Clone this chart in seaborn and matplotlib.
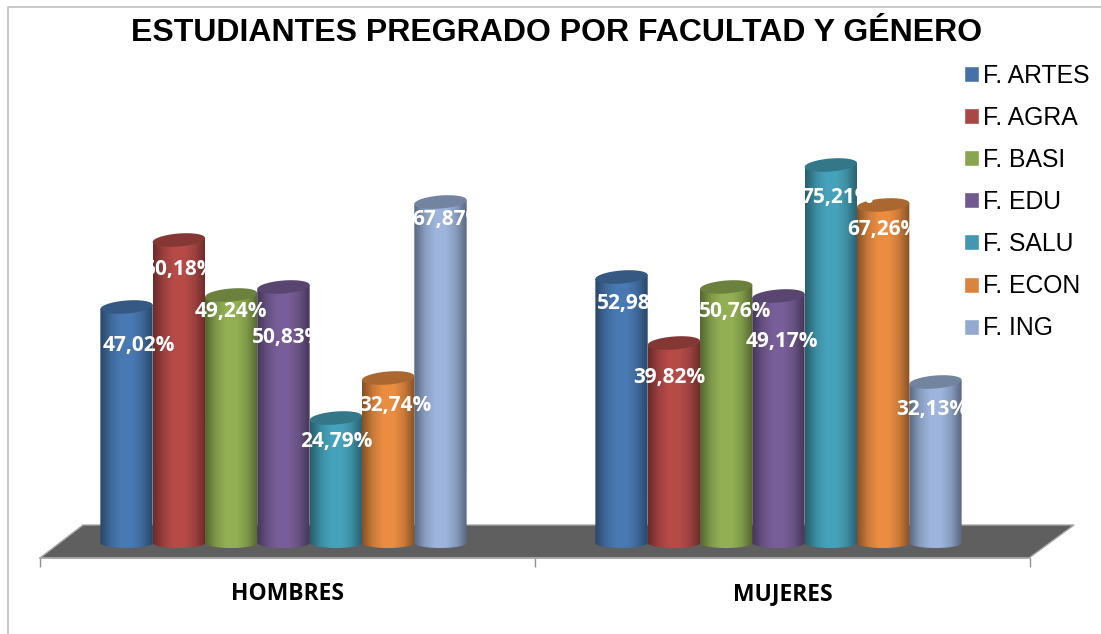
import numpy as np
import pandas as pd
import seaborn as sns
import matplotlib.pyplot as plt
from matplotlib.patches import PathPatch, Polygon, Rectangle
from matplotlib.path import Path
from matplotlib.colors import LinearSegmentedColormap, to_rgb
from matplotlib.transforms import Affine2D

sns.set_theme(style="white")

W, H = 1101, 634

groups = ["HOMBRES", "MUJERES"]
faculties = ["F. ARTES", "F. AGRA", "F. BASI", "F. EDU", "F. SALU", "F. ECON", "F. ING"]
colors = ["#4472a8", "#aa4643", "#89a54e", "#71588f", "#4198af", "#db843d", "#93a9cf"]

# drawn height of each column (the columns don't follow the printed percentages)
hombres_height = [236, 303, 248, 256, 125, 165, 341]
mujeres_height = [266, 200, 256, 247, 378, 338, 161]
hombres_label = ["47,02%", "50,18%", "49,24%", "50,83%", "24,79%", "32,74%", "67,87%"]
mujeres_label = ["52,98%", "39,82%", "50,76%", "49,17%", "75,21%", "67,26%", "32,13%"]

# label offset from the top of the column, in pixels
hombres_off = [(12, -38), (1, -29), (0, -17), (5, -51), (1, -24), (7, -27), (8, -17)]
mujeres_off = [(12, -27), (-5, -34), (9, -25), (3, -45), (7, -32), (0, -25), (-3, -27)]

df = pd.DataFrame({
    "grupo": np.repeat(groups, len(faculties)),
    "facultad": faculties * 2,
    "altura": hombres_height + mujeres_height,
})

fig = plt.figure(figsize=(W / 100, H / 100), dpi=100)
fig.patch.set_facecolor("white")

# axes spans x 40-1030 and y 558-20 in image pixels, 1 y unit = 1 pixel
ax = fig.add_axes([40 / W, 1 - 558 / H, 990 / W, 538 / H])
ax.patch.set_visible(False)
sns.barplot(data=df, x="grupo", y="altura", hue="facultad", palette=colors,
            order=groups, hue_order=faculties, width=0.74, gap=0, dodge=True,
            ax=ax, legend=True, saturation=1)
ax.set_xlabel("")
ax.set_ylabel("")
ax.set_yticks([])

# legend first so the bars can be restyled afterwards
handles, labels = ax.get_legend_handles_labels()
ax.get_legend().remove()
fig.legend(handles, labels, loc="upper left", bbox_to_anchor=(964 / W, 1 - 64 / H),
           frameon=False, handlelength=0.62, handleheight=0.62, labelcolor="black",
           handletextpad=0.15, labelspacing=0.73, borderpad=0, borderaxespad=0,
           prop={"family": "Liberation Sans", "size": 17.8})

# floor, given in image pixels
pixels = Affine2D().scale(1, -1).translate(0, H)
ax.add_patch(Polygon([(40, 558), (83, 525), (1074, 525), (1029, 558)], closed=True,
                     transform=pixels, facecolor="#5f5f5f", edgecolor="#a6a6a6", linewidth=1,
                     zorder=0, clip_on=False))

for spine in ["top", "left", "right"]:
    ax.spines[spine].set_visible(False)
ax.spines["bottom"].set_color("#a6a6a6")
ax.spines["bottom"].set_linewidth(1.2)
ax.set_xticks([0, 1], groups)
ax.tick_params(axis="x", which="major", length=0, pad=17)
ax.set_xticks([-0.5, 0.5, 1.5], minor=True)
ax.tick_params(axis="x", which="minor", length=6.5, width=1, color="#909090", bottom=True)
for t in ax.get_xticklabels():
    t.set_fontfamily("Open Sans")
    t.set_fontweight("bold")
    t.set_fontsize(16.5)
    t.set_color("black")


def shade(base):
    base = np.array(to_rgb(base))
    dark = base * 0.62
    light = np.clip(base * 1.07, 0, 1)
    return LinearSegmentedColormap.from_list("c", [dark, base * 0.92, light, light, base * 0.92, dark])


# turn the flat bars into cylinders
bars = [b for b in ax.patches if isinstance(b, Rectangle) and b.get_height() > 0]
bars = sorted(bars, key=lambda b: b.get_x())
shift = -4 / 495
ry_top, ry_bottom, tilt = 6.5, 5, 2
t = np.linspace(0, 2 * np.pi, 80)
for i, bar in enumerate(bars):
    x0, w, h = bar.get_x() + shift, bar.get_width(), bar.get_height()
    color = colors[i % 7]
    bar.set_visible(False)
    cx = x0 + w / 2
    # body outline, rounded underneath
    low = t[t <= np.pi] + np.pi
    bx = cx + w / 2 * np.cos(low)
    by = ry_bottom * np.sin(low)
    verts = [(x0, h - tilt)] + list(zip(bx, by)) + [(x0 + w, h + tilt), (x0, h - tilt)]
    clip = PathPatch(Path(verts, closed=True), transform=ax.transData, facecolor="none", edgecolor="none")
    ax.add_patch(clip)
    im = ax.imshow(np.linspace(0, 1, 64).reshape(1, -1), extent=(x0, x0 + w, -ry_bottom, h + tilt),
                   cmap=shade(color), aspect="auto", zorder=2 + i * 0.01, interpolation="bilinear")
    im.set_clip_path(clip)
    # top cap, sheared a little like the original perspective
    ax.add_patch(Polygon(np.c_[cx + w / 2 * np.cos(t), h + ry_top * np.sin(t) + tilt * np.cos(t)],
                         closed=True, facecolor=np.array(to_rgb(color)) * 0.78,
                         edgecolor="none", zorder=2 + i * 0.01))
ax.set_xlim(-0.5, 1.5)
ax.set_ylim(-15, 523)

all_labels = hombres_label + mujeres_label
all_off = hombres_off + mujeres_off
for i, bar in enumerate(bars):
    ax.annotate(all_labels[i], (bar.get_x() + shift + bar.get_width() / 2, bar.get_height()),
                xytext=(all_off[i][0] * 0.72, all_off[i][1] * 0.72), textcoords="offset points",
                ha="center", va="center", color="white", fontsize=15, fontweight="bold",
                family="Open Sans", zorder=5)

fig.text(557 / W, 1 - 33 / H, "ESTUDIANTES PREGRADO POR FACULTAD Y GÉNERO", ha="center", va="center",
         fontsize=23, fontweight="bold", family="Liberation Sans", color="black")

# picture frame, only left and top show
fig.add_artist(plt.Line2D([7.5 / W, 7.5 / W, 1], [0, 1 - 7 / H, 1 - 7 / H], color="#c8c8c8", linewidth=1.4))
fig.savefig("out.png", dpi=100)
